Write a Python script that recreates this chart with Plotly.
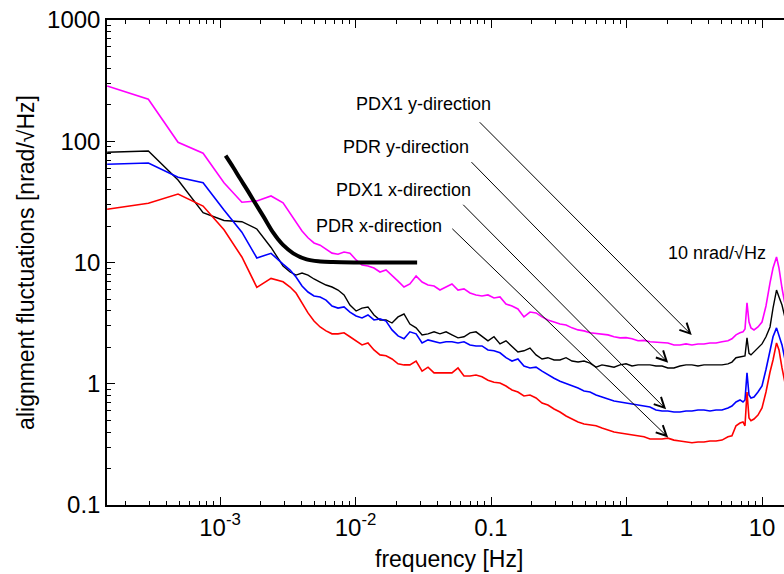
import math
import plotly.graph_objects as go

# ---------------- data ----------------
freq = [1.47e-4, 2.96e-4, 4.9e-4, 7.5e-4, 1.07e-3, 1.45e-3, 1.87e-3, 2.38e-3, 2.92e-3,
        3.29e-3, 3.64e-3, 4.03e-3, 4.46e-3, 4.94e-3, 5.48e-3, 6.06e-3, 6.71e-3, 7.43e-3, 8.23e-3, 9.1e-3,
        1.01e-2, 1.117e-2, 1.236e-2, 1.369e-2, 1.516e-2, 1.68e-2, 1.86e-2, 2.06e-2, 2.28e-2, 2.52e-2,
        2.80e-2, 3.10e-2, 3.43e-2, 3.80e-2, 4.20e-2, 4.66e-2, 5.15e-2, 5.71e-2, 6.32e-2, 7.0e-2,
        7.75e-2, 8.58e-2, 9.5e-2,
        0.1052, 0.1165, 0.129, 0.1429, 0.158, 0.175, 0.194, 0.215, 0.238, 0.263, 0.292, 0.323,
        0.358, 0.396, 0.439, 0.486, 0.538, 0.596, 0.659, 0.730, 0.809, 0.896, 0.992,
        1.098, 1.216, 1.346, 1.49, 1.65, 1.83, 2.02, 2.24, 2.48, 2.75, 3.04, 3.37, 3.73, 4.13,
        4.58, 5.07, 5.61, 6.0, 6.43, 6.88, 7.24, 7.49, 7.75, 8.02, 8.29, 8.73, 9.34,
        10.0, 10.7, 11.46, 12.06, 12.8, 13.35, 14.05, 14.8]

pdx1_y = [286, 222, 98, 79.6, 45.5, 31.4, 32.2, 35.4, 31.1,
          25.6, 21.6, 18.2, 16.0, 14.5, 13.9, 12.9, 11.95, 11.7, 12.2, 11.95,
          10.5, 9.54, 9.36, 9.0, 8.35, 8.67, 7.88, 7.03, 6.28, 6.65, 7.74, 6.9, 6.52, 6.4, 5.93,
          6.28, 6.65, 5.93, 6.05, 5.6, 5.4, 5.29, 5.4,
          5.1, 5.2, 4.55, 4.38, 4.14, 3.56, 3.9, 3.84, 3.56, 3.36, 3.23, 3.11, 3.05, 2.89, 2.78,
          2.73, 2.63, 2.6, 2.58, 2.53, 2.44, 2.39, 2.4,
          2.35, 2.26, 2.28, 2.22, 2.2, 2.17, 2.17, 2.09, 2.09, 2.13, 2.09, 2.13, 2.13, 2.17, 2.17,
          2.22, 2.26, 2.35, 2.53, 2.63, 2.68, 2.83, 4.64, 3.23, 2.89, 2.78, 2.94,
          3.23, 4.38, 6.78, 9.0, 11.1, 9.0, 6.16, 4.46]

pdr_y = [81.1, 83.1, 47.9, 25.8, 22.2, 21.7, 18.9, 13.3, 9.36,
         8.35, 7.88, 8.19, 7.88, 7.31, 6.9, 6.52, 6.28, 5.93, 5.4, 4.46,
         3.98, 4.21, 4.30, 3.69, 3.36, 3.36, 3.17, 3.56, 3.76, 3.11, 2.89, 2.53, 2.58, 2.68, 2.58,
         2.68, 2.53, 2.39, 2.44, 2.63, 2.68, 2.44, 2.26,
         2.44, 2.13, 2.26, 2.05, 1.83, 1.87, 1.97, 1.73, 1.6, 1.64, 1.57, 1.57, 1.64, 1.54, 1.51,
         1.54, 1.48, 1.37, 1.43, 1.40, 1.37, 1.43, 1.46,
         1.40, 1.43, 1.43, 1.43, 1.40, 1.40, 1.35, 1.35, 1.40, 1.43, 1.43, 1.40, 1.43, 1.43, 1.43,
         1.43, 1.46, 1.51, 1.64, 1.67, 1.67, 1.70, 2.39, 1.78, 1.73, 1.83, 1.94,
         2.13, 2.44, 2.94, 4.21, 5.93, 5.19, 4.46, 3.49]

pdx1_x = [64.6, 66.2, 50.5, 45.5, 27.1, 17.8, 10.9, 11.9, 9.7,
          8.67, 7.6, 6.4, 5.71, 5.29, 5.19, 4.9, 4.38, 4.21, 4.30, 3.9,
          3.62, 3.49, 3.69, 3.36, 3.43, 3.29, 2.78, 2.48, 2.35, 2.68, 2.58, 2.17, 2.3, 2.22, 2.17,
          2.22, 2.22, 2.17, 2.22, 2.09, 2.05, 2.05, 1.9,
          1.87, 1.8, 1.64, 1.54, 1.6, 1.4, 1.35, 1.37, 1.27, 1.18, 1.11, 1.05, 1.01, 0.958, 0.922,
          0.871, 0.855, 0.807, 0.777, 0.749, 0.72, 0.707, 0.694,
          0.681, 0.668, 0.655, 0.643, 0.607, 0.596, 0.596, 0.585, 0.585, 0.596, 0.596, 0.607, 0.607,
          0.596, 0.607, 0.607, 0.631, 0.655, 0.707, 0.735, 0.707, 0.735, 1.23, 0.807, 0.763, 0.777, 0.855,
          0.958, 1.31, 1.9, 2.44, 2.89, 2.53, 2.09, 1.57]

pdr_x = [27.5, 30.8, 36.7, 29.2, 18.6, 11.1, 6.24, 7.4, 6.94,
         6.28, 5.6, 4.64, 3.84, 3.29, 2.94, 2.73, 2.58, 2.58, 2.63, 2.44,
         2.26, 2.09, 2.17, 1.9, 1.73, 1.70, 1.6, 1.46, 1.43, 1.43, 1.54, 1.27, 1.37, 1.23, 1.23,
         1.23, 1.23, 1.35, 1.16, 1.16, 1.18, 1.14, 1.07,
         1.03, 1.015, 0.958, 0.888, 0.855, 0.792, 0.807, 0.763, 0.694, 0.668, 0.619, 0.585, 0.542,
         0.512, 0.484, 0.466, 0.459, 0.45, 0.431, 0.415, 0.4, 0.393, 0.386,
         0.378, 0.372, 0.365, 0.35, 0.35, 0.35, 0.356, 0.343, 0.337, 0.331, 0.326, 0.331, 0.331,
         0.337, 0.337, 0.343, 0.365, 0.372, 0.45, 0.474, 0.484, 0.45, 0.855, 0.522, 0.495, 0.512, 0.552,
         0.631, 0.855, 1.25, 1.57, 2.17, 1.9, 1.35, 1.01]

req_freq = [1.1e-3, 1.25e-3, 1.41e-3, 1.57e-3, 1.76e-3, 2.09e-3, 2.47e-3, 2.69e-3, 2.93e-3,
            3.47e-3, 4.36e-3, 5.5e-3, 6.8e-3, 1.0e-2, 2.85e-2]
req_val = [76, 61, 49, 40.5, 32.8, 24, 17.6, 15.5, 13.9,
           11.9, 10.6, 10.2, 10.08, 10.02, 10.0]

x_tickvals = [1e-3, 1e-2, 0.1, 1, 10]
x_ticktext = ["10<sup>-3</sup>", "10<sup>-2</sup>", "0.1", "1", "10"]
x_minor = [2e-4, 3e-4, 4e-4, 5e-4, 6e-4, 7e-4, 8e-4, 9e-4,
           2e-3, 3e-3, 4e-3, 5e-3, 6e-3, 7e-3, 8e-3, 9e-3,
           2e-2, 3e-2, 4e-2, 5e-2, 6e-2, 7e-2, 8e-2, 9e-2,
           0.2, 0.3, 0.4, 0.5, 0.6, 0.7, 0.8, 0.9,
           2, 3, 4, 5, 6, 7, 8, 9]
y_tickvals = [0.1, 1, 10, 100, 1000]
y_ticktext = ["0.1", "1", "10", "100", "1000"]
y_minor = [0.2, 0.3, 0.4, 0.5, 0.6, 0.7, 0.8, 0.9,
           2, 3, 4, 5, 6, 7, 8, 9,
           20, 30, 40, 50, 60, 70, 80, 90,
           200, 300, 400, 500, 600, 700, 800, 900]

labels = ["PDX1 y-direction", "PDR y-direction", "PDX1 x-direction", "PDR x-direction"]
label_pos = [(0.1035, 202.8), (0.0708, 89.7), (0.0733, 39.6), (0.045, 20.0)]
arrow_tail = [(0.0805, 147.6), (0.070, 69.2), (0.0608, 30.8), (0.0505, 19.5)]
arrow_head = [(3.03, 2.52), (2.03, 1.49), (1.96, 0.615), (2.03, 0.361)]
req_label = "10 nrad/\u221aHz"
req_label_pos = (11.0, 12.0)
x_title = "frequency [Hz]"
y_title = "alignment fluctuations [nrad/\u221aHz]"

# ---------------- figure ----------------
FONT = "Liberation Sans, Arial, Helvetica, sans-serif"
fig = go.Figure()
series = [(pdx1_y, "#ff00ff", 1.6), (pdr_y, "#000000", 1.4),
          (pdx1_x, "#0000ff", 1.6), (pdr_x, "#ff0000", 1.6)]
for vals, col, w in series:
    fig.add_trace(go.Scatter(x=freq, y=vals, mode="lines",
                             line=dict(color=col, width=w), showlegend=False,
                             hoverinfo="skip"))
fig.add_trace(go.Scatter(x=req_freq, y=req_val, mode="lines",
                         line=dict(color="black", width=4, shape="spline", smoothing=1.0),
                         showlegend=False, hoverinfo="skip"))

L = math.log10
ann = []
for txt, (fx, fy) in zip(labels, label_pos):
    ann.append(dict(x=L(fx), y=L(fy), xref="x", yref="y", text=txt, showarrow=False,
                    xanchor="right", yanchor="middle", font=dict(size=18, color="black", family=FONT)))
for (tx, ty), (hx, hy) in zip(arrow_tail, arrow_head):
    ann.append(dict(x=L(hx), y=L(hy), ax=L(tx), ay=L(ty), xref="x", yref="y",
                    axref="x", ayref="y", text="", showarrow=True, arrowhead=5,
                    arrowsize=2.0, arrowwidth=1, arrowcolor="black"))
ann.append(dict(x=L(req_label_pos[0]), y=L(req_label_pos[1]), xref="x", yref="y",
                text=req_label, showarrow=False, xanchor="right", yanchor="middle",
                font=dict(size=18, color="black", family=FONT)))
# x-axis title as a paper-anchored annotation
ann.append(dict(x=0.505, y=0, xref="paper", yref="paper", text=x_title, showarrow=False,
                xanchor="center", yanchor="top", yshift=-39,
                font=dict(size=23, color="black", family=FONT)))

fig.update_layout(
    width=784, height=574,
    margin=dict(l=107, r=0, t=20, b=69),
    paper_bgcolor="white", plot_bgcolor="white",
    font=dict(family=FONT, color="black", size=24),
    annotations=ann,
)
fig.update_xaxes(
    type="log", range=[-3.834, 1.1624], automargin=False,
    tickmode="array", tickvals=x_tickvals, ticktext=x_ticktext,
    ticks="inside", ticklen=8, tickwidth=1.2, tickcolor="black",
    minor=dict(ticks="inside", ticklen=4, tickwidth=1.2, tickcolor="black",
               tickmode="array", tickvals=x_minor, showgrid=False),
    showline=True, linecolor="black", linewidth=1.5, mirror="allticks",
    showgrid=False, zeroline=False,
    tickfont=dict(size=24, family=FONT, color="black"),
)
fig.update_yaxes(
    type="log", range=[-1, 3], automargin=False,
    tickmode="array", tickvals=y_tickvals, ticktext=y_ticktext,
    ticks="inside", ticklen=8, tickwidth=1.2, tickcolor="black",
    minor=dict(ticks="inside", ticklen=4, tickwidth=1.2, tickcolor="black",
               tickmode="array", tickvals=y_minor, showgrid=False),
    showline=True, linecolor="black", linewidth=1.5, mirror=False,
    showgrid=False, zeroline=False,
    tickfont=dict(size=24, family=FONT, color="black"),
    title=dict(text=y_title, font=dict(size=23, family=FONT, color="black"), standoff=6),
)

fig.write_html("out.html", config={"displayModeBar": False},
               post_script="document.body.style.margin='0';document.body.style.padding='0';"
                           "document.body.style.overflow='hidden';")
